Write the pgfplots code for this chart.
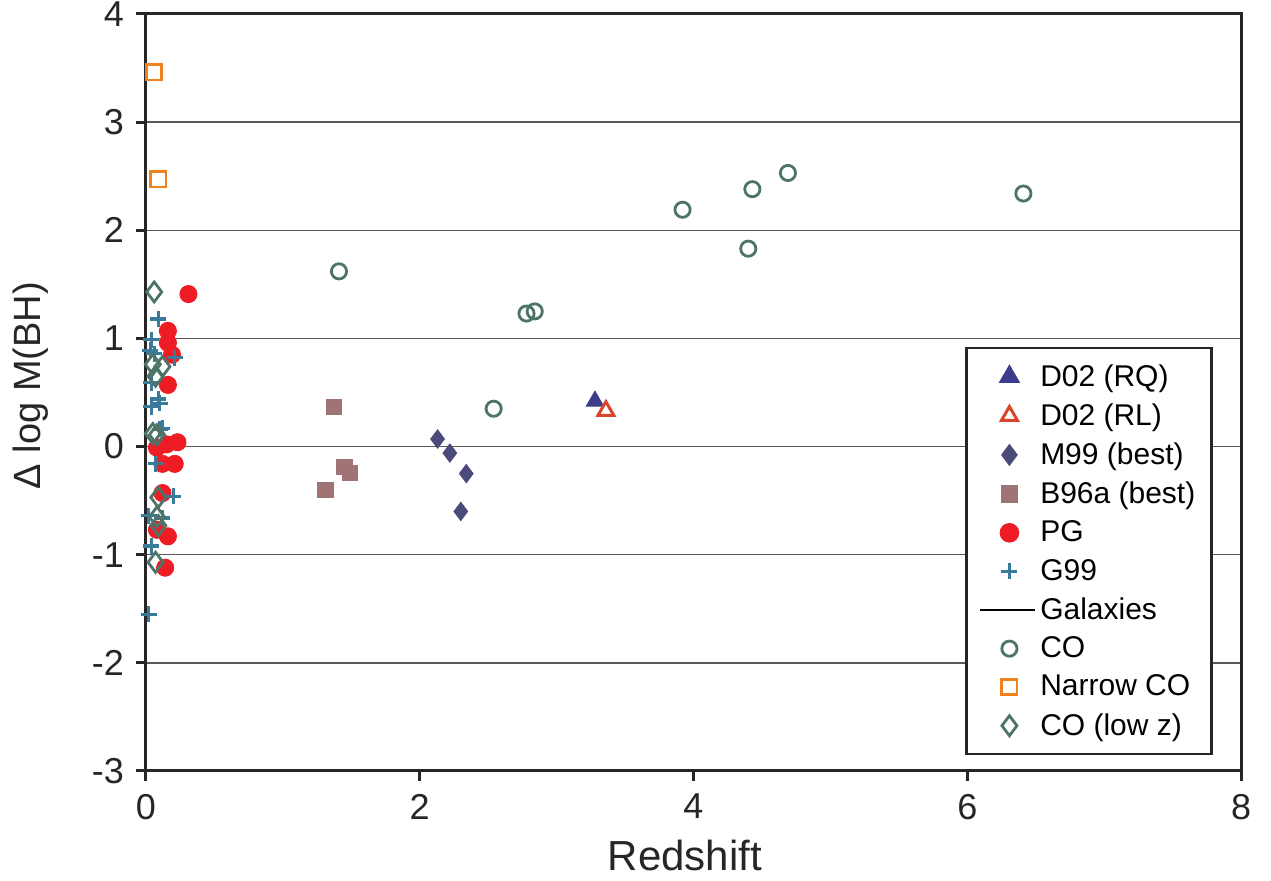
\documentclass[border=0pt]{standalone}
\usepackage{pgfplots}
\pgfplotsset{compat=1.18}
\usepackage{fontspec}
\setmainfont{Liberation Sans}
\definecolor{cogreen}{HTML}{4E7468}
\definecolor{narrow}{HTML}{F0821E}
\definecolor{rq}{HTML}{3C3C8C}
\definecolor{rl}{HTML}{D9442A}
\definecolor{m99}{HTML}{4B4A7A}
\definecolor{b96}{HTML}{A07474}
\definecolor{pg}{HTML}{EE1C25}
\definecolor{g99}{HTML}{3A7B9A}
\begin{document}
\begin{tikzpicture}
\begin{axis}[
  scale only axis,
  width=547.5pt, height=378.5pt,
  xmin=0, xmax=8, ymin=-3, ymax=4,
  xtick={0,2,4,6,8}, ytick={-3,-2,-1,0,1,2,3,4},
  xtick pos=bottom, ytick pos=left,
  tick align=outside, major tick length=5pt,
  tick style={line width=1.5pt, black!85},
  axis line style={line width=1.5pt, black!85},
  ymajorgrids, xmajorgrids=false,
  major grid style={line width=0.7pt, black!65},
  /pgf/number format/assume math mode=true,
  ticklabel style={font=\fontsize{18}{18}\selectfont, text=black!85},
  yticklabel style={inner ysep=0pt, xshift=-2.5pt},
  xticklabel style={yshift=-3pt},
  xlabel={Redshift}, ylabel={Δ log M(BH)},
  xlabel style={font=\fontsize{21}{21}\selectfont, at={(axis description cs:0.492,-0.112)}, anchor=center, text=black!85},
  ylabel style={font=\fontsize{19}{19}\selectfont, at={(axis description cs:-0.105,0.509)}, anchor=center, text=black!85},
  legend style={at={(axis description cs:0.974,0.560)}, anchor=north east,
    font=\fontsize{15}{17}\selectfont, draw=black!85, line width=1.2pt,
    row sep=3.2pt, inner xsep=6pt, inner ysep=6pt, cells={anchor=west}},
  legend cell align=left,
]
\addplot[only marks, mark=triangle*, mark size=5pt, color=rq] coordinates {(3.28,0.42)};
\addlegendentry{D02 (RQ)}
\addplot[only marks, mark=triangle, mark size=4.6pt, color=rl, line width=1.5pt] coordinates {(3.36,0.33)};
\addlegendentry{D02 (RL)}
\addplot[only marks, mark=diamond*, mark size=4.6pt, color=m99] coordinates {(2.13,0.07) (2.22,-0.06) (2.34,-0.25) (2.30,-0.60)};
\addlegendentry{M99 (best)}
\addplot[only marks, mark=square*, mark size=3.8pt, color=b96] coordinates {(1.37,0.37) (1.31,-0.40) (1.45,-0.19) (1.49,-0.24)};
\addlegendentry{B96a (best)}
\addplot[only marks, mark=*, mark size=4.3pt, color=pg] coordinates {
(0.31,1.41) (0.16,1.07) (0.16,0.96) (0.19,0.85) (0.16,0.57) (0.23,0.04) (0.15,0.02)
(0.08,-0.01) (0.12,-0.16) (0.21,-0.16) (0.12,-0.43) (0.08,-0.77) (0.16,-0.83) (0.14,-1.12)};
\addlegendentry{PG}
\addplot[only marks, mark=+, mark size=4pt, color=g99, line width=1.6pt] coordinates {
(0.09,1.18) (0.04,0.99) (0.03,0.89) (0.06,0.86) (0.21,0.82) (0.04,0.59) (0.09,0.44)
(0.04,0.37) (0.10,0.40) (0.12,0.17) (0.10,0.16) (0.07,-0.16) (0.20,-0.46) (0.02,-0.64)
(0.12,-0.66) (0.04,-0.92) (0.02,-1.55)};
\addlegendentry{G99}
\addlegendimage{black, line width=1.2pt, legend image code/.code={\draw[black, line width=1.2pt] (-0.22cm,0cm) -- (0.75cm,0cm);}}
\addlegendentry{Galaxies}
\addplot[only marks, mark=o, mark size=3.8pt, color=cogreen, line width=1.4pt] coordinates {
(1.41,1.62) (2.54,0.35) (2.78,1.23) (2.84,1.25) (3.92,2.19) (4.40,1.83) (4.43,2.38) (4.69,2.53) (6.41,2.34)};
\addlegendentry{CO}
\addplot[only marks, mark=square, mark size=3.8pt, color=narrow, line width=1.4pt] coordinates {(0.06,3.46) (0.09,2.47)};
\addlegendentry{Narrow CO}
\addplot[only marks, mark=diamond, mark size=5pt, color=cogreen, line width=1.4pt] coordinates {
(0.06,1.43) (0.05,0.76) (0.12,0.74) (0.07,0.65) (0.05,0.12) (0.08,0.11) (0.09,-0.47)
(0.08,-0.65) (0.09,-0.73) (0.07,-1.07)};
\addlegendentry{CO (low z)}
\end{axis}
\path (current axis.south west) ++(-73pt,-55pt);
\path (current axis.north east) ++(15pt,7pt);
\end{tikzpicture}
\end{document}
